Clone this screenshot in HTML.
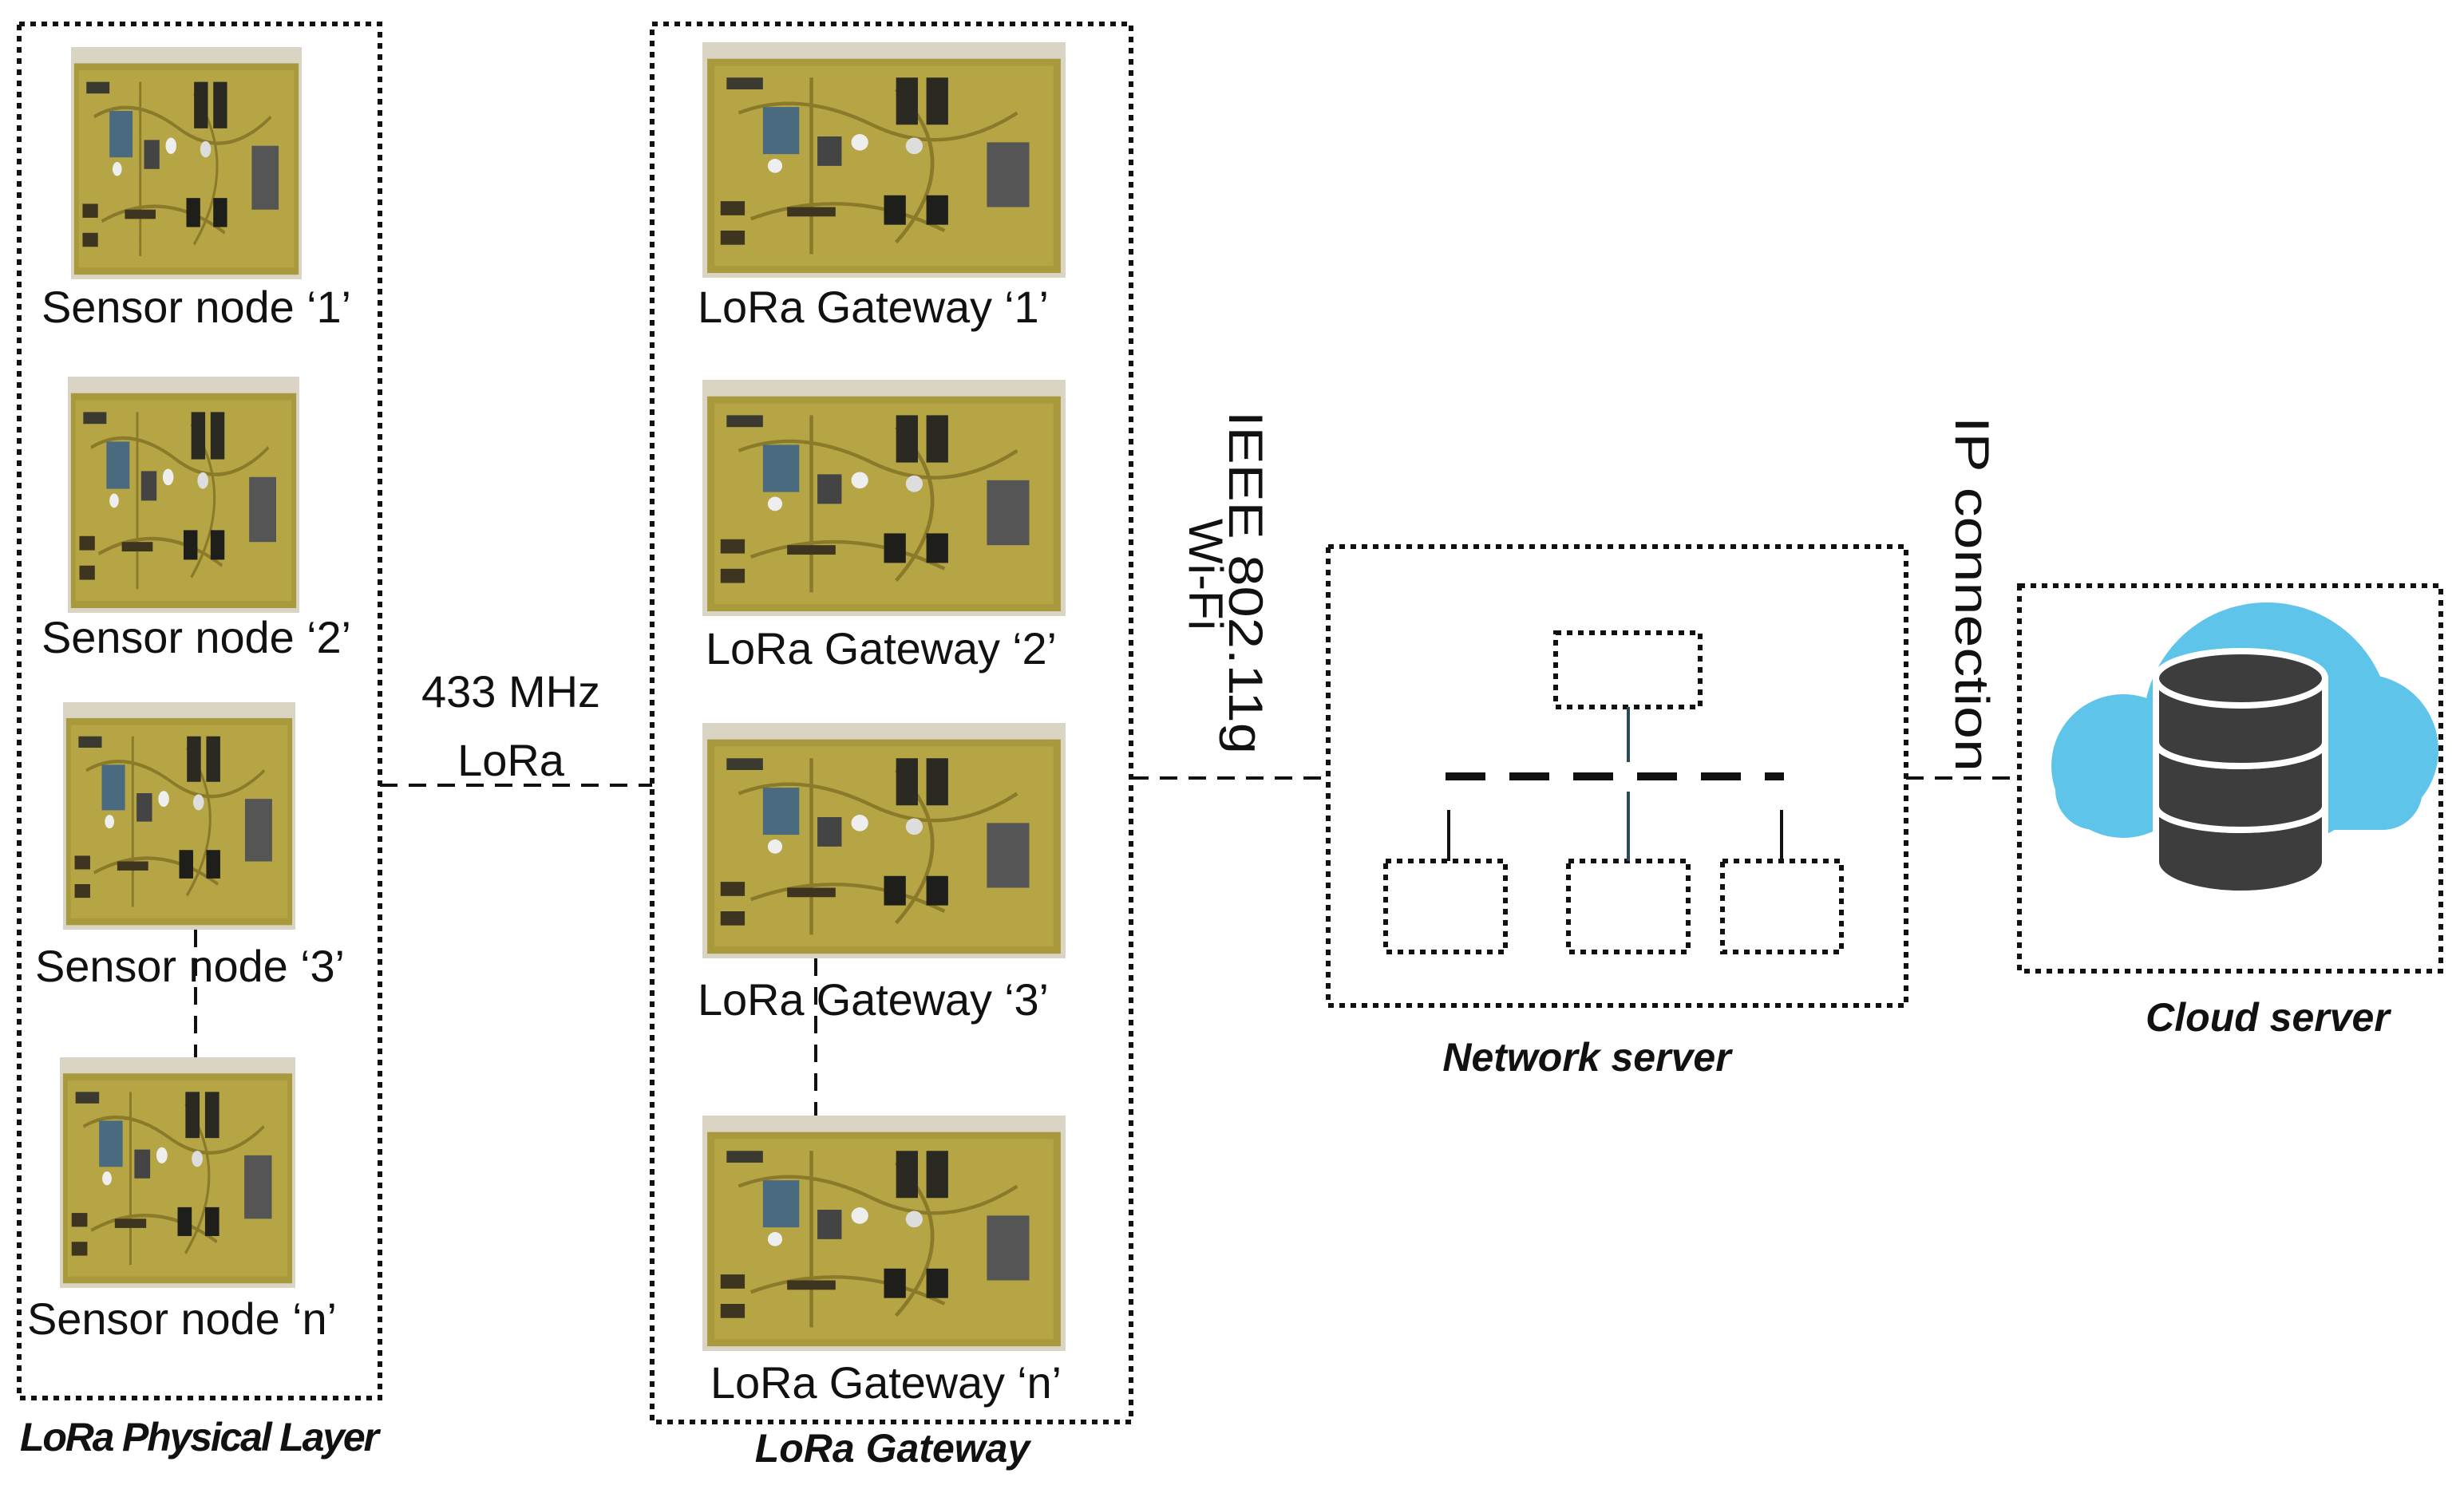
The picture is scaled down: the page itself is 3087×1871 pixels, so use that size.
<!DOCTYPE html>
<html><head><meta charset="utf-8"><style>html,body{margin:0;padding:0;background:#fff}</style></head>
<body>
<svg width="3087" height="1866" viewBox="0 0 3087 1866" xmlns="http://www.w3.org/2000/svg" font-family="Liberation Sans, sans-serif">
<defs>
<symbol id="pcb" viewBox="0 0 300 200" preserveAspectRatio="none">
<rect x="0" y="0" width="300" height="200" fill="#d9d4c4"/>
<rect x="4" y="14" width="292" height="182" fill="#a89a3c"/>
<rect x="10" y="20" width="280" height="170" fill="#b5a544"/>
<path d="M30 60 Q80 40 140 70 T260 60 M40 150 Q120 120 200 160 M90 30 L90 180 M160 40 Q220 100 160 170" stroke="#8a7a2a" stroke-width="3" fill="none"/>
<rect x="20" y="30" width="30" height="10" fill="#3a3a30"/>
<rect x="50" y="55" width="30" height="40" fill="#4a6a80"/>
<rect x="160" y="30" width="18" height="40" fill="#2a2a22"/>
<rect x="185" y="30" width="18" height="40" fill="#2a2a22"/>
<rect x="235" y="85" width="35" height="55" fill="#555"/>
<rect x="150" y="130" width="18" height="25" fill="#1e1e1a"/>
<rect x="185" y="130" width="18" height="25" fill="#1e1e1a"/>
<rect x="15" y="135" width="20" height="12" fill="#3e3520"/>
<rect x="15" y="160" width="20" height="12" fill="#3e3520"/>
<rect x="70" y="140" width="40" height="8" fill="#3e3520"/>
<circle cx="130" cy="85" r="7" fill="#eee"/><circle cx="175" cy="88" r="7" fill="#ddd"/><circle cx="60" cy="105" r="6" fill="#eee"/>
<rect x="95" y="80" width="20" height="25" fill="#444"/>
</symbol>
</defs>
<g fill="none" stroke="#111" stroke-width="6" stroke-dasharray="7 7">
<rect x="24" y="30" width="452" height="1722"/>
<rect x="817" y="30" width="600" height="1752"/>
<rect x="1664" y="685" width="724" height="575"/>
<rect x="2530" y="734" width="528" height="483"/>
<rect x="1949" y="793" width="181" height="93"/>
<rect x="1736" y="1079" width="150" height="114"/>
<rect x="1965" y="1079" width="150" height="114"/>
<rect x="2158" y="1079" width="149" height="114"/>
</g>
<g stroke="#111" stroke-width="4" fill="none" stroke-dasharray="22 14">
<line x1="476" y1="984" x2="817" y2="984"/>
<line x1="1417" y1="975" x2="1664" y2="975"/>
<line x1="2388" y1="975" x2="2530" y2="975"/>
<line x1="245" y1="1165" x2="245" y2="1325"/>
<line x1="1022" y1="1201" x2="1022" y2="1398"/>
</g>
<line x1="1811" y1="973" x2="2235" y2="973" stroke="#111" stroke-width="10" stroke-dasharray="50 30"/>
<g stroke="#2a4a55" stroke-width="4"><line x1="2040" y1="886" x2="2040" y2="955"/><line x1="2040" y1="992" x2="2040" y2="1079"/></g>
<g stroke="#111" stroke-width="4"><line x1="1815" y1="1015" x2="1815" y2="1079"/><line x1="2232" y1="1015" x2="2232" y2="1079"/></g>
<use href="#pcb" x="89" y="59" width="289" height="291"/>
<use href="#pcb" x="85" y="472" width="290" height="296"/>
<use href="#pcb" x="79" y="880" width="291" height="285"/>
<use href="#pcb" x="75" y="1325" width="295" height="289"/>
<use href="#pcb" x="880" y="53" width="455" height="295"/>
<use href="#pcb" x="880" y="476" width="455" height="296"/>
<use href="#pcb" x="880" y="906" width="455" height="295"/>
<use href="#pcb" x="880" y="1398" width="455" height="295"/>
<g font-size="56" fill="#111">
<text x="52" y="404" textLength="388">Sensor node ‘1’</text>
<text x="52" y="818" textLength="388">Sensor node ‘2’</text>
<text x="44" y="1230" textLength="388">Sensor node ‘3’</text>
<text x="34" y="1672" textLength="388">Sensor node ‘n’</text>
<text x="874" y="404" textLength="440">LoRa Gateway ‘1’</text>
<text x="884" y="832" textLength="440">LoRa Gateway ‘2’</text>
<text x="874" y="1272" textLength="440">LoRa Gateway ‘3’</text>
<text x="890" y="1752" textLength="440">LoRa Gateway ‘n’</text>
<text x="640" y="886" text-anchor="middle">433 MHz</text>
<text x="640" y="972" text-anchor="middle">LoRa</text>
<g transform="translate(1540,515) rotate(90)"><text x="0" y="0" font-size="60" textLength="430" lengthAdjust="spacingAndGlyphs">IEEE 802.11g</text></g>
<g transform="translate(1490,650) rotate(90)"><text x="0" y="0" font-size="60">Wi-Fi</text></g>
<g transform="translate(2450,522) rotate(90)"><text x="0" y="0" font-size="60" textLength="445" lengthAdjust="spacingAndGlyphs">IP connection</text></g>
</g>
<g font-size="50" font-weight="bold" font-style="italic" fill="#111">
<text x="250" y="1818" text-anchor="middle" textLength="450">LoRa Physical Layer</text>
<text x="1118" y="1832" text-anchor="middle">LoRa Gateway</text>
<text x="1988" y="1342" text-anchor="middle">Network server</text>
<text x="2841" y="1292" text-anchor="middle">Cloud server</text>
</g>
<g fill="#5ec4ea">
<circle cx="2840" cy="910" r="155"/>
<circle cx="2660" cy="960" r="90"/>
<circle cx="2960" cy="940" r="95"/>
<rect x="2575" y="940" width="460" height="100" rx="50"/>
</g>
<g fill="#3d3d3d" stroke="#fff" stroke-width="8">
<path d="M2701 1080 v-70 a106 30 0 0 0 212 0 v70 a106 40 0 0 1 -212 0z"/>
<path d="M2701 1010 v-80 a106 30 0 0 0 212 0 v80 a106 30 0 0 1 -212 0z"/>
<path d="M2701 930 v-80 a106 30 0 0 0 212 0 v80 a106 30 0 0 1 -212 0z"/>
<ellipse cx="2807" cy="850" rx="106" ry="34"/>
</g>
</svg>
</body></html>
